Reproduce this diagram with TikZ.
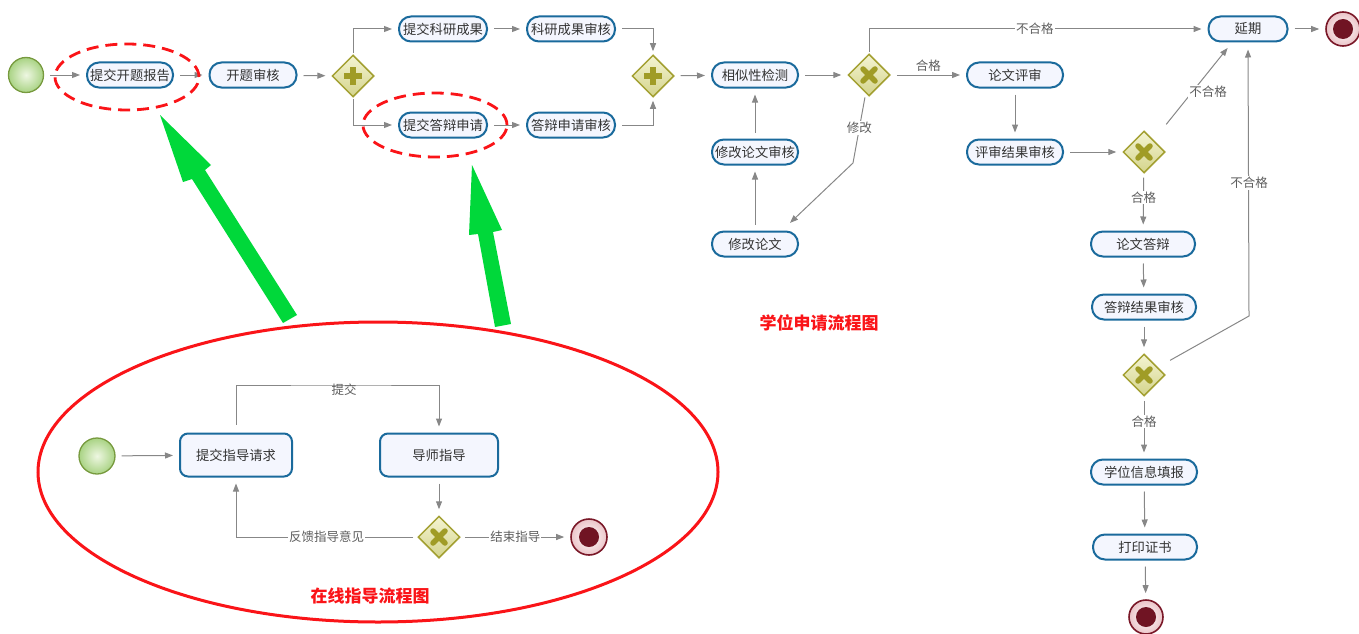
\documentclass[tikz,border=0pt]{standalone}
\usepackage{fontspec}
\setmainfont{Noto Sans CJK SC}
\usetikzlibrary{shapes.geometric,arrows.meta,calc}
\definecolor{taskb}{HTML}{1A6A9C}
\definecolor{taskf}{HTML}{F4F6FE}
\definecolor{txt}{HTML}{333333}
\definecolor{arr}{HTML}{878787}
\definecolor{labc}{HTML}{5E5E5E}
\definecolor{gwb}{HTML}{A3A032}
\definecolor{gwt}{HTML}{F4F4D2}
\definecolor{gwbt}{HTML}{D4D48C}
\definecolor{gwx}{HTML}{A09C26}
\definecolor{stb}{HTML}{779A3E}
\definecolor{stin}{HTML}{EEF7E2}
\definecolor{stout}{HTML}{A9D384}
\definecolor{endb}{HTML}{7A1828}
\definecolor{endin}{HTML}{701423}
\definecolor{endpink}{HTML}{EBC4C8}
\definecolor{redc}{HTML}{FA1418}
\definecolor{grn}{HTML}{00D83A}
\tikzset{
  task/.style={draw=taskb, line width=2pt, fill=taskf, rounded corners=12pt,
    minimum height=25pt, inner sep=0pt, text=txt, font=\fontsize{13.3}{14}\selectfont},
  btask/.style={task, rounded corners=8pt, minimum height=43pt},
  gw/.style={diamond, draw=gwb, line width=1.5pt, minimum size=42pt, inner sep=0pt,
    top color=gwt, bottom color=gwbt},
  xgw/.style={gw, path picture={
    \draw[gwx, line width=5.5pt, line cap=round]
      ([shift={(-6pt,-6pt)}]path picture bounding box.center) -- ([shift={(6pt,6pt)}]path picture bounding box.center)
      ([shift={(-6pt,6pt)}]path picture bounding box.center) -- ([shift={(6pt,-6pt)}]path picture bounding box.center);}},
  pgw/.style={gw, path picture={
    \draw[gwx, line width=5.5pt]
      ([shift={(-9pt,0pt)}]path picture bounding box.center) -- ([shift={(9pt,0pt)}]path picture bounding box.center)
      ([shift={(0pt,-9pt)}]path picture bounding box.center) -- ([shift={(0pt,9pt)}]path picture bounding box.center);}},
  startev/.style={circle, minimum size=35pt, inner sep=0pt, draw=stb, line width=1.3pt,
    inner color=stin, outer color=stout},
  endev/.style={circle, minimum size=34pt, inner sep=0pt, draw=endb, line width=1.6pt,
    inner color=white, outer color=endpink,
    path picture={\fill[endin] (path picture bounding box.center) circle (10pt);}},
  flow/.style={draw=arr, line width=1pt, -{Triangle[length=8pt,width=6pt]},
    shorten >=6pt, shorten <=6pt},
  lab/.style={fill=white, inner sep=1pt, text=labc, font=\fontsize{12.5}{13}\selectfont},
  redell/.style={draw=redc, line width=2.8pt, dash pattern=on 12pt off 7pt},
  title/.style={text=redc, font=\fontsize{17}{18}\selectfont\bfseries},
  garrow/.style={fill=grn, draw=none},
}
\begin{document}
\begin{tikzpicture}[x=1pt,y=-1pt]
\useasboundingbox (0,0) rectangle (1359,634);

% ---------- top process ----------
\node[startev] (s1) at (26,75) {};
\node[task, minimum width=86pt] (t1) at (130,75) {提交开题报告};
\node[task, minimum width=87pt] (t2) at (253,75) {开题审核};
\node[pgw] (g1) at (353,76) {};
\node[task, minimum width=88pt] (t3) at (443,29) {提交科研成果};
\node[task, minimum width=88pt] (t4) at (571,29) {科研成果审核};
\node[task, minimum width=88pt] (t5) at (443,125) {提交答辩申请};
\node[task, minimum width=88pt] (t6) at (571,125) {答辩申请审核};
\node[pgw] (g2) at (653,76) {};
\node[task, minimum width=86pt] (t7) at (755,75) {相似性检测};
\node[xgw] (g3) at (869,75) {};
\node[task, minimum width=96pt] (t8) at (1015,75) {论文评审};
\node[task, minimum width=96pt] (t9) at (1015,152) {评审结果审核};
\node[xgw] (g4) at (1144,152) {};
\node[task, minimum width=104pt] (t10) at (1143,244) {论文答辩};
\node[task, minimum width=104pt] (t11) at (1144,307) {答辩结果审核};
\node[xgw] (g5) at (1144,375) {};
\node[task, minimum width=106pt] (t12) at (1144,472) {学位信息填报};
\node[task, minimum width=104pt] (t13) at (1145,547) {打印证书};
\node[endev] (e1) at (1146,617) {};
\node[task, minimum width=79pt] (t14) at (1248,29) {延期};
\node[endev] (e2) at (1343,29) {};
\node[task, minimum width=86pt] (t15) at (755,152) {修改论文审核};
\node[task, minimum width=86pt] (t16) at (755,244) {修改论文};

\coordinate (c3) at (853,163);
\coordinate (c5) at (1249,316);

\draw[flow] (s1) -- (t1);
\draw[flow] (t1) -- (t2);
\draw[flow] (t2) -- (g1);
\draw[flow, shorten <=1pt] (g1.north) |- (t3.west);
\draw[flow, shorten <=1pt] (g1.south) |- (t5.west);
\draw[flow] (t3) -- (t4);
\draw[flow] (t5) -- (t6);
\draw[flow, shorten >=3pt] (t4.east) -| (g2.north);
\draw[flow, shorten >=3pt] (t6.east) -| (g2.south);
\draw[flow] (g2) -- (t7);
\draw[flow] (t7) -- (g3);
\draw[flow] (g3) -- node[lab, above=2pt, fill=none] (l1) {合格} (t8);
\draw[flow, shorten <=1pt] (g3.north) |- node[lab, pos=0.745] (l2) {不合格} (t14.west);
\draw[flow] (t8) -- (t9);
\draw[flow] (t9) -- (g4);
\draw[flow, shorten <=20pt, shorten >=7pt] (g4) -- ([xshift=-16pt]t14.south);
\node[lab] (l3) at (1208,92) {不合格};
\draw[flow, shorten <=4pt] (g4) -- node[lab, pos=0.42] (l4) {合格} (t10);
\draw[flow] (t10) -- (t11);
\draw[flow] (t11) -- (g5);
\draw[flow, shorten <=14pt, shorten >=7pt] (g5) -- (c5) -- (t14.south);
\node[lab] (l5) at (1249,183) {不合格};
\draw[flow, shorten <=4pt] (g5) -- node[lab, pos=0.4] (l6) {合格} (t12);
\draw[flow] (t12) -- (t13);
\draw[flow] (t13) -- (e1);
\draw[flow] (t14) -- (e2);
\draw[flow, shorten <=4pt, shorten >=11pt] (g3) -- node[lab] (l7) {修改} (c3) -- ([xshift=27pt]t16.north);
\draw[flow] (t16) -- (t15);
\draw[flow] (t15) -- (t7);

\node[title] (ttl1) at (819,323) {学位申请流程图};

% ---------- highlight ellipses ----------
\draw[redell] (127,77) ellipse [x radius=72pt, y radius=33pt];
\draw[redell] (435,125) ellipse [x radius=72pt, y radius=32pt];
\draw[draw=redc, line width=3pt] (378,472) ellipse [x radius=340pt, y radius=150pt];

% ---------- green arrows ----------
\fill[garrow] (160,115) -- (211,165) -- (205,170) -- (297,315) -- (283,323) -- (192,179) -- (183,182) -- cycle;
\fill[garrow] (472,165) -- (502,230) -- (493,232) -- (511,324) -- (495,327) -- (478,234) -- (469,235) -- cycle;

% ---------- bottom process ----------
\node[startev, minimum size=36pt] (bs) at (97,456) {};
\node[btask, minimum width=112pt] (b1) at (236,455) {提交指导请求};
\node[btask, minimum width=118pt] (b2) at (439,455) {导师指导};
\node[xgw] (bg) at (439,537) {};
\node[endev, minimum size=36pt] (be) at (589,537) {};
\coordinate (bt) at (344,385);

\draw[flow] (bs) -- (b1);
\draw[flow, shorten <=8pt] (b1.north) |- (bt) -| (b2.north);
\node[lab, fill=none] (l8) at (344,390) {提交};
\draw[flow] (b2) -- (bg);
\draw[flow, shorten <=4pt] (bg.west) -| node[lab, pos=0.25] (l9) {反馈指导意见} (b1.south);
\draw[flow, shorten <=4pt] (bg) -- node[lab] (l10) {结束指导} (be);

\node[title] (ttl2) at (370,596) {在线指导流程图};
\end{tikzpicture}
\end{document}
